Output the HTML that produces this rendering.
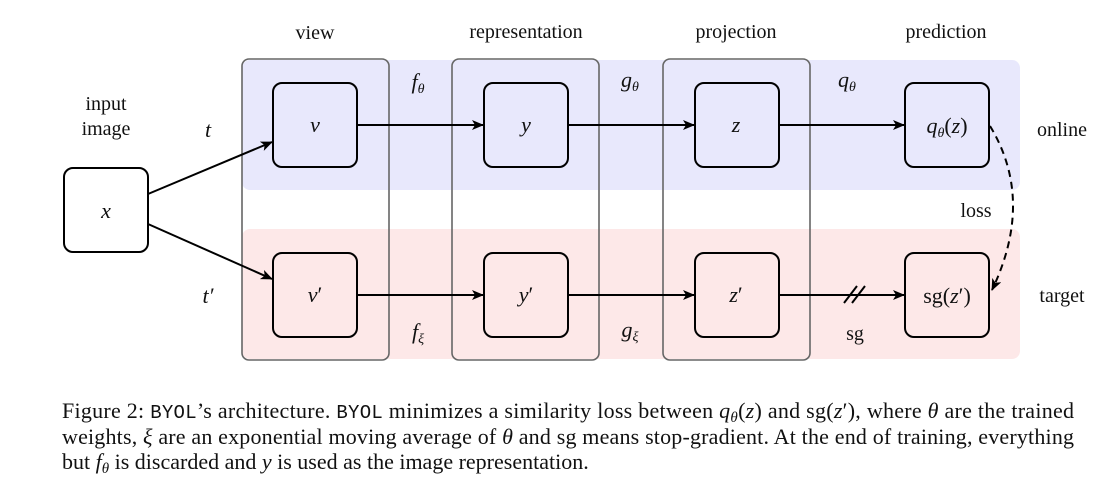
<!DOCTYPE html>
<html><head><meta charset="utf-8"><style>
body{margin:0;background:#fff;width:1111px;height:498px;overflow:hidden}
svg{display:block}
text{font-family:"Liberation Serif",serif;fill:#111}
.i{font-style:italic}
.cap{font-size:22px}
.mono{font-family:"Liberation Mono",monospace}
</style></head><body>
<svg width="1111" height="498" viewBox="0 0 1111 498">
<defs><marker id="a" markerWidth="12" markerHeight="10" refX="11" refY="5" orient="auto" markerUnits="userSpaceOnUse"><path d="M0,0 L12,5 L0,10 L3,5Z" fill="#000"/></marker></defs>
<rect x="242" y="60" width="778" height="130" rx="8" fill="#e8e8fc"/>
<rect x="242" y="229" width="778" height="130" rx="8" fill="#fde8e8"/>
<g fill="none" stroke="#666" stroke-width="1.6">
<rect x="242" y="59" width="147" height="301" rx="7"/>
<rect x="452" y="59" width="147" height="301" rx="7"/>
<rect x="663" y="59" width="147" height="301" rx="7"/>
</g>
<g fill="none" stroke="#000" stroke-width="2">
<rect x="64" y="168" width="84" height="84" rx="9"/>
<rect x="273" y="83" width="84" height="84" rx="9"/>
<rect x="484" y="83" width="84" height="84" rx="9"/>
<rect x="695" y="83" width="84" height="84" rx="9"/>
<rect x="905" y="83" width="84" height="84" rx="9"/>
<rect x="273" y="253" width="84" height="84" rx="9"/>
<rect x="484" y="253" width="84" height="84" rx="9"/>
<rect x="695" y="253" width="84" height="84" rx="9"/>
<rect x="905" y="253" width="84" height="84" rx="9"/>
<line x1="148" y1="194" x2="272" y2="142" marker-end="url(#a)"/>
<line x1="148" y1="224" x2="272" y2="279" marker-end="url(#a)"/>
<line x1="357" y1="125" x2="483" y2="125" marker-end="url(#a)"/>
<line x1="568" y1="125" x2="694" y2="125" marker-end="url(#a)"/>
<line x1="779" y1="125" x2="904" y2="125" marker-end="url(#a)"/>
<line x1="357" y1="295" x2="483" y2="295" marker-end="url(#a)"/>
<line x1="568" y1="295" x2="694" y2="295" marker-end="url(#a)"/>
<line x1="779" y1="295" x2="904" y2="295" marker-end="url(#a)"/>
<line x1="844" y1="303" x2="857" y2="286"/>
<line x1="852" y1="303" x2="865" y2="286"/>
<path d="M990,126 Q1035,200 992,290" stroke-dasharray="7,5" marker-end="url(#a)"/>
</g>
<g font-size="20" text-anchor="middle">
<text x="315" y="39">view</text>
<text x="526" y="38">representation</text>
<text x="736" y="38">projection</text>
<text x="946" y="38">prediction</text>
<text x="106" y="110">input</text>
<text x="106" y="135">image</text>
<text x="1062" y="136">online</text>
<text x="976" y="217">loss</text>
<text x="1062" y="302">target</text>
<text x="855" y="340">sg</text>
</g>
<g font-size="22" text-anchor="middle">
<text class="i" x="106" y="218">x</text>
<text class="i" x="315" y="132">v</text>
<text class="i" x="526" y="132">y</text>
<text class="i" x="736" y="132">z</text>
<text x="947" y="133"><tspan class="i">q</tspan><tspan class="i" font-size="14" dy="4">θ</tspan><tspan dy="-4">(</tspan><tspan class="i">z</tspan>)</text>
<text x="315" y="302"><tspan class="i">v</tspan>′</text>
<text x="526" y="302"><tspan class="i">y</tspan>′</text>
<text x="736" y="302"><tspan class="i">z</tspan>′</text>
<text x="947" y="303">sg(<tspan class="i">z</tspan>′)</text>
<text class="i" x="208" y="137">t</text>
<text class="i" x="208" y="303">t′</text>
<text x="418" y="89"><tspan class="i">f</tspan><tspan class="i" font-size="14" dy="4">θ</tspan></text>
<text x="418" y="339"><tspan class="i">f</tspan><tspan class="i" font-size="14" dy="4">ξ</tspan></text>
<text x="630" y="87"><tspan class="i">g</tspan><tspan class="i" font-size="14" dy="4">θ</tspan></text>
<text x="630" y="337"><tspan class="i">g</tspan><tspan class="i" font-size="14" dy="4">ξ</tspan></text>
<text x="847" y="87"><tspan class="i">q</tspan><tspan class="i" font-size="14" dy="4">θ</tspan></text>
</g>
<text class="cap" x="62" y="418" textLength="1012" lengthAdjust="spacing">Figure 2: <tspan class="mono" font-size="19">BYOL</tspan>’s architecture. <tspan class="mono" font-size="19">BYOL</tspan> minimizes a similarity loss between <tspan class="i">q</tspan><tspan class="i" font-size="15" dy="4">θ</tspan><tspan dy="-4">(</tspan><tspan class="i">z</tspan>) and sg(<tspan class="i">z</tspan>′), where <tspan class="i">θ</tspan> are the trained</text>
<text class="cap" x="62" y="444" textLength="1012" lengthAdjust="spacing">weights, <tspan class="i">ξ</tspan> are an exponential moving average of <tspan class="i">θ</tspan> and sg means stop-gradient. At the end of training, everything</text>
<text class="cap" x="62" y="469">but <tspan class="i">f</tspan><tspan class="i" font-size="15" dy="4">θ</tspan><tspan dy="-4"> is discarded and </tspan><tspan class="i">y</tspan> is used as the image representation.</text>
</svg>
</body></html>
